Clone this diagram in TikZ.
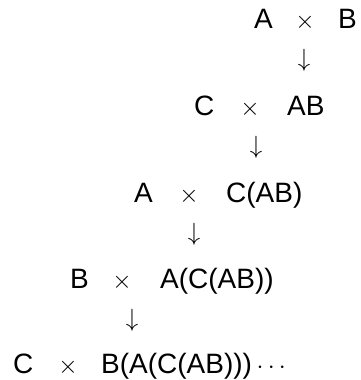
\documentclass[tikz,border=0pt]{standalone}
\usepackage{fontspec}
\setmainfont{Liberation Sans}
\tikzset{
  term/.style={anchor=base west, inner sep=0pt, font=\fontsize{28}{32}\selectfont},
  op/.style={anchor=base, inner sep=0pt, font=\fontsize{28}{32}\selectfont},
  down/.style={anchor=center, inner sep=0pt, font=\fontsize{28}{32}\selectfont},
}
\begin{document}
\begin{tikzpicture}[x=1pt,y=-1pt]
  \useasboundingbox (0,0) rectangle (360,380);
  % row 1
  \node[term] (l1) at (254,28) {A};
  \node[op]   (t1) at (305,28) {$\times$};
  \node[term] (r1) at (338,28) {B};
  \node[down] (d1) at (304,60) {$\downarrow$};
  % row 2
  \node[term] (l2) at (194,115) {C};
  \node[op]   (t2) at (250,115) {$\times$};
  \node[term] (r2) at (287,115) {AB};
  \node[down] (d2) at (256,147) {$\downarrow$};
  % row 3
  \node[term] (l3) at (134,202) {A};
  \node[op]   (t3) at (189,202) {$\times$};
  \node[term] (r3) at (226,202) {C(AB)};
  \node[down] (d3) at (194,234) {$\downarrow$};
  % row 4
  \node[term] (l4) at (70,288) {B};
  \node[op]   (t4) at (122,288) {$\times$};
  \node[term] (r4) at (160,288) {A(C(AB))};
  \node[down] (d4) at (132,320) {$\downarrow$};
  % row 5
  \node[term] (l5) at (13,373) {C};
  \node[op]   (t5) at (68,373) {$\times$};
  \node[term] (r5) at (101,373) {B(A(C(AB)))\,$\cdots$};
\end{tikzpicture}
\end{document}
